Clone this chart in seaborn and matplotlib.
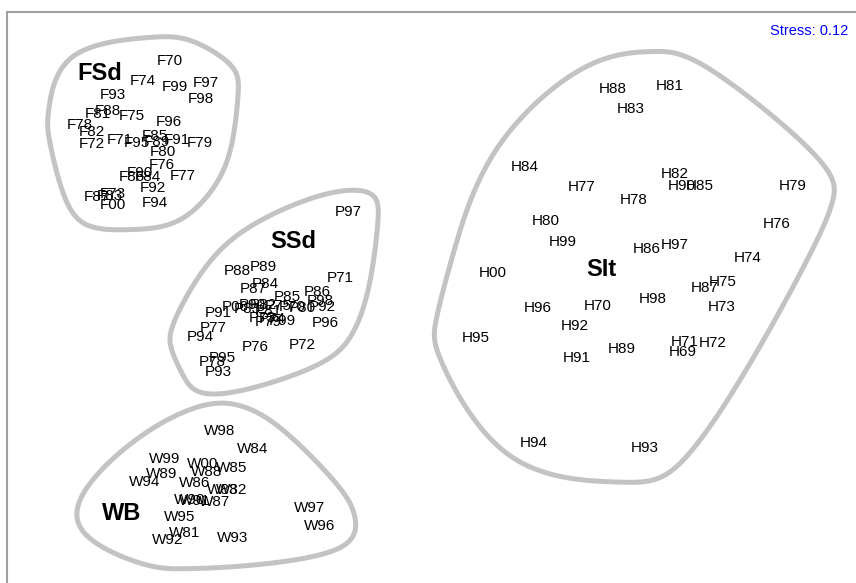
import numpy as np
import pandas as pd
import matplotlib
matplotlib.use("Agg")
import matplotlib.pyplot as plt
import seaborn as sns

# NMDS site scores (axis 1, axis 2) for each sample, labelled by year
f_labels = ["F70", "F71", "F72", "F73", "F74", "F75", "F76", "F77", "F78", "F79",
            "F80", "F81", "F82", "F83", "F84", "F85", "F86", "F87", "F88", "F89",
            "F90", "F91", "F92", "F93", "F94", "F95", "F96", "F97", "F98", "F99", "F00"]
f_x = [-2.60, -3.10, -3.38, -3.17, -2.87, -2.98, -2.68, -2.47, -3.50, -2.30,
       -2.67, -3.32, -3.38, -3.20, -2.82, -2.75, -2.98, -3.33, -3.22, -2.73,
       -2.90, -2.53, -2.77, -3.17, -2.75, -2.93, -2.61, -2.24, -2.29, -2.55, -3.17]
f_y = [2.39, 1.60, 1.56, 1.06, 2.19, 1.84, 1.35, 1.24, 1.75, 1.57,
       1.48, 1.86, 1.68, 1.04, 1.23, 1.64, 1.23, 1.03, 1.89, 1.58,
       1.27, 1.60, 1.12, 2.05, 0.97, 1.57, 1.78, 2.17, 2.01, 2.13, 0.95]

p_labels = ["P70", "P71", "P72", "P73", "P74", "P75", "P76", "P77", "P78", "P79",
            "P80", "P81", "P82", "P83", "P84", "P85", "P86", "P87", "P88", "P89",
            "P90", "P91", "P92", "P93", "P94", "P95", "P96", "P97", "P98", "P99", "P00"]
p_x = [-1.38, -0.90, -1.28, -1.68, -1.58, -1.52, -1.75, -2.17, -2.18, -1.62,
       -1.28, -1.62, -1.67, -1.83, -1.65, -1.43, -1.13, -1.77, -1.93, -1.67,
       -1.78, -2.12, -1.08, -2.12, -2.30, -2.08, -1.05, -0.82, -1.10, -1.48, -1.95]
p_y = [-0.07, 0.22, -0.45, -0.18, -0.19, -0.06, -0.47, -0.28, -0.62, -0.22,
       -0.08, -0.11, -0.05, -0.09, 0.16, 0.03, 0.08, 0.11, 0.29, 0.33,
       -0.05, -0.13, -0.07, -0.72, -0.37, -0.58, -0.23, 0.88, -0.01, -0.21, -0.07]

w_labels = ["W81", "W82", "W83", "W84", "W85", "W86", "W87", "W88", "W89", "W90",
            "W91", "W92", "W93", "W94", "W95", "W96", "W97", "W98", "W99", "W00"]
w_x = [-2.45, -1.98, -2.07, -1.77, -1.98, -2.35, -2.15, -2.23, -2.68, -2.40,
       -2.35, -2.62, -1.97, -2.85, -2.50, -1.10, -1.20, -2.10, -2.65, -2.27]
w_y = [-2.33, -1.90, -1.90, -1.49, -1.68, -1.83, -2.02, -1.72, -1.74, -2.00,
       -2.01, -2.40, -2.38, -1.82, -2.17, -2.26, -2.08, -1.31, -1.59, -1.64]

h_labels = ["H69", "H70", "H71", "H72", "H73", "H74", "H75", "H76", "H77", "H78",
            "H79", "H80", "H81", "H82", "H83", "H84", "H85", "H86", "H87", "H88",
            "H89", "H90", "H91", "H92", "H93", "H94", "H95", "H96", "H97", "H98",
            "H99", "H00"]
h_x = [2.53, 1.68, 2.55, 2.83, 2.92, 3.18, 2.93, 3.47, 1.52, 2.04,
       3.63, 1.16, 2.40, 2.45, 2.01, 0.95, 2.70, 2.17, 2.75, 1.83,
       1.92, 2.52, 1.47, 1.45, 2.15, 1.04, 0.46, 1.08, 2.45, 2.23,
       1.33, 0.63]
h_y = [-0.52, -0.06, -0.42, -0.43, -0.07, 0.42, 0.18, 0.76, 1.13, 1.00,
       1.14, 0.79, 2.14, 1.26, 1.91, 1.33, 1.14, 0.51, 0.12, 2.11,
       -0.49, 1.14, -0.58, -0.26, -1.48, -1.43, -0.38, -0.08, 0.55, 0.01,
       0.58, 0.27]

# group names and where their names are printed
group_names = ["FSd", "SSd", "WB", "SIt"]
group_name_x = [-3.30, -1.37, -3.08, 1.71]
group_name_y = [2.27, 0.58, -2.13, 0.30]

stress_value = 0.12

groups = [
    (f_labels, f_x, f_y),
    (p_labels, p_x, p_y),
    (w_labels, w_x, w_y),
    (h_labels, h_x, h_y),
]

# outline padding per group (data units)
hull_pad = [0.19, 0.17, 0.23, 0.29]


def convex_hull(px, py):
    pts = sorted(set(zip(np.round(px, 6), np.round(py, 6))))

    def cross(o, a, b):
        return (a[0] - o[0]) * (b[1] - o[1]) - (a[1] - o[1]) * (b[0] - o[0])

    lower, upper = [], []
    for p in pts:
        while len(lower) >= 2 and cross(lower[-2], lower[-1], p) <= 0:
            lower.pop()
        lower.append(p)
    for p in reversed(pts):
        while len(upper) >= 2 and cross(upper[-2], upper[-1], p) <= 0:
            upper.pop()
        upper.append(p)
    return np.array(lower[:-1] + upper[:-1])


def offset_polygon(poly, pad):
    # push every vertex of a counter-clockwise polygon outwards by pad
    prev = np.roll(poly, 1, axis=0)
    nxt = np.roll(poly, -1, axis=0)
    e1 = poly - prev
    e2 = nxt - poly
    n1 = np.column_stack([e1[:, 1], -e1[:, 0]])
    n1 /= np.linalg.norm(n1, axis=1)[:, None]
    n2 = np.column_stack([e2[:, 1], -e2[:, 0]])
    n2 /= np.linalg.norm(n2, axis=1)[:, None]
    m = n1 + n2
    m /= np.linalg.norm(m, axis=1)[:, None]
    d = pad / np.clip((m * n1).sum(axis=1), 0.5, 1.0)
    return poly + m * d[:, None]


def bspline_closed(ctrl, n=40):
    # uniform cubic B-spline through a closed control polygon
    k = len(ctrl)
    t = np.linspace(0, 1, n, endpoint=False)
    b0 = (1 - t) ** 3 / 6
    b1 = (3 * t ** 3 - 6 * t ** 2 + 4) / 6
    b2 = (-3 * t ** 3 + 3 * t ** 2 + 3 * t + 1) / 6
    b3 = t ** 3 / 6
    out = []
    for i in range(k):
        p0, p1, p2, p3 = ctrl[i - 1], ctrl[i], ctrl[(i + 1) % k], ctrl[(i + 2) % k]
        seg = (b0[:, None] * p0 + b1[:, None] * p1 + b2[:, None] * p2 + b3[:, None] * p3)
        out.append(seg)
    return np.vstack(out)


def group_outline(xs, ys, nx, ny, pad):
    xs = np.asarray(xs)
    ys = np.asarray(ys)
    hw, hh = 0.14, 0.06
    cx = np.concatenate([xs - hw, xs + hw, xs + hw, xs - hw, [nx - 0.25, nx + 0.25, nx + 0.25, nx - 0.25]])
    cy = np.concatenate([ys - hh, ys - hh, ys + hh, ys + hh, [ny - 0.09, ny - 0.09, ny + 0.09, ny + 0.09]])
    h = convex_hull(cx, cy)
    h = offset_polygon(h, pad)
    c = bspline_closed(h)
    return np.vstack([c, c[:1]])


sns.set_style("white")
plt.rcParams["font.family"] = ["Liberation Sans", "DejaVu Sans"]

fig = plt.figure(figsize=(8.56, 5.83), dpi=100)
ax = fig.add_axes([7.5 / 856, 0, 1 - 7.5 / 856, 571 / 583])
ax.set_xlim((7.5 - 430) / 100, (856 - 430) / 100)
ax.set_ylim((300 - 583) / 100, (300 - 12) / 100)

for (labels, xs, ys), gx, gy, pad in zip(groups, group_name_x, group_name_y, hull_pad):
    h = group_outline(xs, ys, gx, gy, pad)
    df = pd.DataFrame({"x": h[:, 0], "y": h[:, 1]})
    sns.lineplot(data=df, x="x", y="y", sort=False, estimator=None,
                 color="#c3c3c3", linewidth=3.6, ax=ax, zorder=1)

for labels, xs, ys in groups:
    for lab, x, y in zip(labels, xs, ys):
        ax.text(x, y, lab, ha="center", va="center", fontsize=11, color="black", zorder=3)

for name, x, y in zip(group_names, group_name_x, group_name_y):
    ax.text(x, y, name, ha="center", va="center", fontsize=17, fontweight="bold",
            color="black", zorder=3)

ax.text(0.991, 0.967, f"Stress: {stress_value:.2f}", transform=ax.transAxes,
        ha="right", va="center", fontsize=10.5, color="#0000ff")

ax.set_xticks([])
ax.set_yticks([])
ax.set_xlabel("")
ax.set_ylabel("")
for side in ["right", "bottom"]:
    ax.spines[side].set_visible(False)
for side in ["left", "top"]:
    ax.spines[side].set_color("#a0a0a0")
    ax.spines[side].set_linewidth(1.5)

fig.savefig("out.png", dpi=100)
